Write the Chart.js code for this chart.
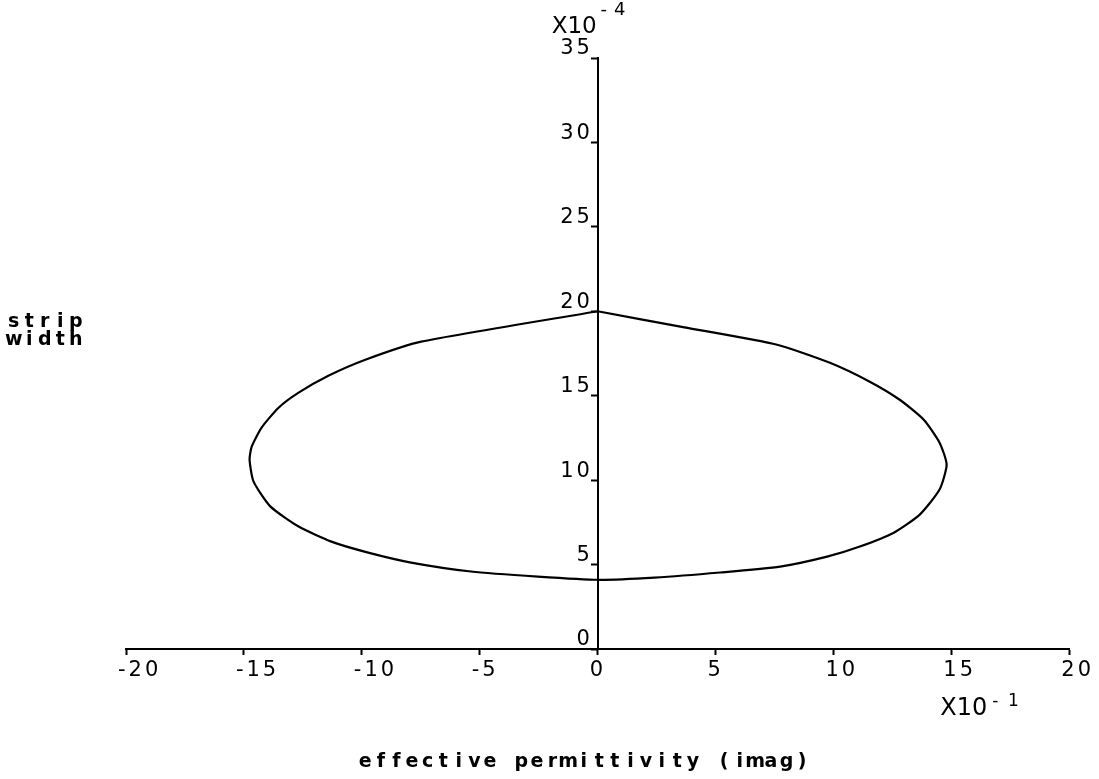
<!DOCTYPE html>
<html>
<head>
<meta charset="utf-8">
<title>strip width vs effective permittivity (imag)</title>
<script src="https://cdn.jsdelivr.net/npm/chart.js@4.4.1/dist/chart.umd.min.js"></script>
<style>
  html, body { margin: 0; padding: 0; background: #fff; }
  #wrap { width: 1099px; height: 779px; }
</style>
</head>
<body>
<div id="wrap"><canvas id="stripChart" width="1099" height="779"></canvas></div>
<script>
// effective permittivity (imag), in units of 10^-1
// traced round the loop: top, right side down, bottom, left side up
const permImag = [
  0, 3.68, 7.61, 9.85, 11.54, 12.81, 13.83, 14.5, 14.8, 14.5, 13.66, 12.56,
  11.12, 9.73, 7.74, 5.2, 2.41, 0, -2.54, -5.37, -7.91, -9.73, -11.29,
  -12.68, -13.87, -14.59, -14.76, -14.67, -14.25, -13.53, -12.68, -11.42,
  -9.85, -7.48, 0,
];
// strip width, in units of 10^-4
const stripWidth = [
  20.0, 19.05, 18.02, 16.95, 15.83, 14.76, 13.58, 12.22, 10.92, 9.44, 7.96,
  6.89, 6.07, 5.47, 4.88, 4.53, 4.23, 4.1, 4.29, 4.59, 5.12, 5.71, 6.36,
  7.25, 8.43, 9.91, 11.21, 11.98, 13.11, 14.29, 15.18, 16.18, 17.13, 18.2,
  20.0,
];

const xTickValues = [-20, -15, -10, -5, 0, 5, 10, 15, 20];
const yTickValues = [0, 5, 10, 15, 20, 25, 30, 35];

document.addEventListener('DOMContentLoaded', function () {
  // draw characters in fixed cells, like the plotter lettering
  function spacedText(ctx, text, left, baseline, pitch) {
    ctx.textAlign = 'center';
    for (let i = 0; i < text.length; i++) {
      ctx.fillText(text[i], left + (i + 0.5) * pitch, baseline);
    }
  }

  const plotText = {
    id: 'plotText',
    beforeDraw(chart) {
      chart.ctx.letterSpacing = '3px';
    },
    afterDraw(chart) {
      const ctx = chart.ctx;
      const xs = chart.scales.x;
      const ys = chart.scales.y;
      const x0 = xs.getPixelForValue(0);
      ctx.save();
      ctx.letterSpacing = '0px';
      ctx.fillStyle = '#000';
      ctx.textBaseline = 'alphabetic';

      // exponent of the y axis
      ctx.textAlign = 'left';
      ctx.font = '23px "DejaVu Sans"';
      ctx.fillText('X10', x0 - 46, ys.top - 25);
      ctx.font = '18px "DejaVu Sans"';
      spacedText(ctx, '-4', x0 - 2, ys.top - 43, 16);

      // exponent of the x axis
      const x15 = xs.getPixelForValue(15);
      ctx.textAlign = 'left';
      ctx.font = '24px "DejaVu Sans"';
      ctx.fillText('X10', x15 - 11, ys.bottom + 66);
      ctx.font = '17px "DejaVu Sans"';
      spacedText(ctx, '-1', x15 + 35, ys.bottom + 57, 18);

      // axis titles
      ctx.font = 'bold 19px "DejaVu Sans"';
      const y20 = ys.getPixelForValue(20);
      spacedText(ctx, 'strip', 6, y20 + 16, 15.5);
      spacedText(ctx, 'width', 6, y20 + 34, 15.5);
      const title = 'effective permittivity (imag)';
      const pitch = 15.6;
      spacedText(ctx, title, x0 - 14 - (title.length * pitch) / 2, ys.bottom + 118, pitch);
      ctx.restore();
    },
  };

  const points = permImag.map((x, i) => ({ x: x, y: stripWidth[i] }));
  const tickFont = { family: 'DejaVu Sans', size: 21 };

  new Chart(document.getElementById('stripChart').getContext('2d'), {
    type: 'scatter',
    data: {
      datasets: [
        {
          label: 'strip width',
          data: points,
          showLine: true,
          fill: false,
          borderColor: '#000',
          borderWidth: 2.2,
          pointRadius: 0,
          tension: 0.2,
        },
      ],
    },
    options: {
      responsive: false,
      animation: false,
      layout: {
        padding: { left: 126, right: 27, top: 58, bottom: 80 },
      },
      plugins: {
        legend: { display: false },
        tooltip: { enabled: false },
      },
      scales: {
        x: {
          type: 'linear',
          position: 'bottom',
          min: -20,
          max: 20,
          afterBuildTicks: (scale) => {
            scale.ticks = xTickValues.map((v) => ({ value: v }));
          },
          afterFit: (scale) => {
            scale.height = 50;
          },
          ticks: {
            color: '#000',
            align: 'start',
            labelOffset: -8,
            padding: 3,
            maxRotation: 0,
            font: tickFont,
          },
          grid: {
            drawOnChartArea: false,
            drawTicks: true,
            tickLength: 6,
            tickColor: '#000',
            tickWidth: 2,
          },
          border: { display: true, color: '#000', width: 2 },
        },
        // the axis line and its ticks, crossing at x = 0
        y: {
          type: 'linear',
          position: { x: 0 },
          min: 0,
          max: 35,
          afterBuildTicks: (scale) => {
            scale.ticks = yTickValues.map((v) => ({ value: v }));
          },
          afterFit: (scale) => {
            scale.width = 0;
          },
          ticks: { display: false },
          grid: {
            drawOnChartArea: false,
            drawTicks: true,
            tickLength: 6,
            tickColor: '#000',
            tickWidth: 2,
          },
          border: { display: true, color: '#000', width: 2 },
        },
        // the y labels, set back a little to the left of the tick marks
        yLabels: {
          axis: 'y',
          type: 'linear',
          position: { x: -0.2 },
          min: 0,
          max: 35,
          afterBuildTicks: (scale) => {
            scale.ticks = yTickValues.map((v) => ({ value: v }));
          },
          afterFit: (scale) => {
            scale.width = 0;
          },
          ticks: {
            color: '#000',
            labelOffset: -9,
            font: tickFont,
          },
          grid: { display: false, drawTicks: false },
          border: { display: false },
        },
      },
    },
    plugins: [plotText],
  });
});
</script>
</body>
</html>
